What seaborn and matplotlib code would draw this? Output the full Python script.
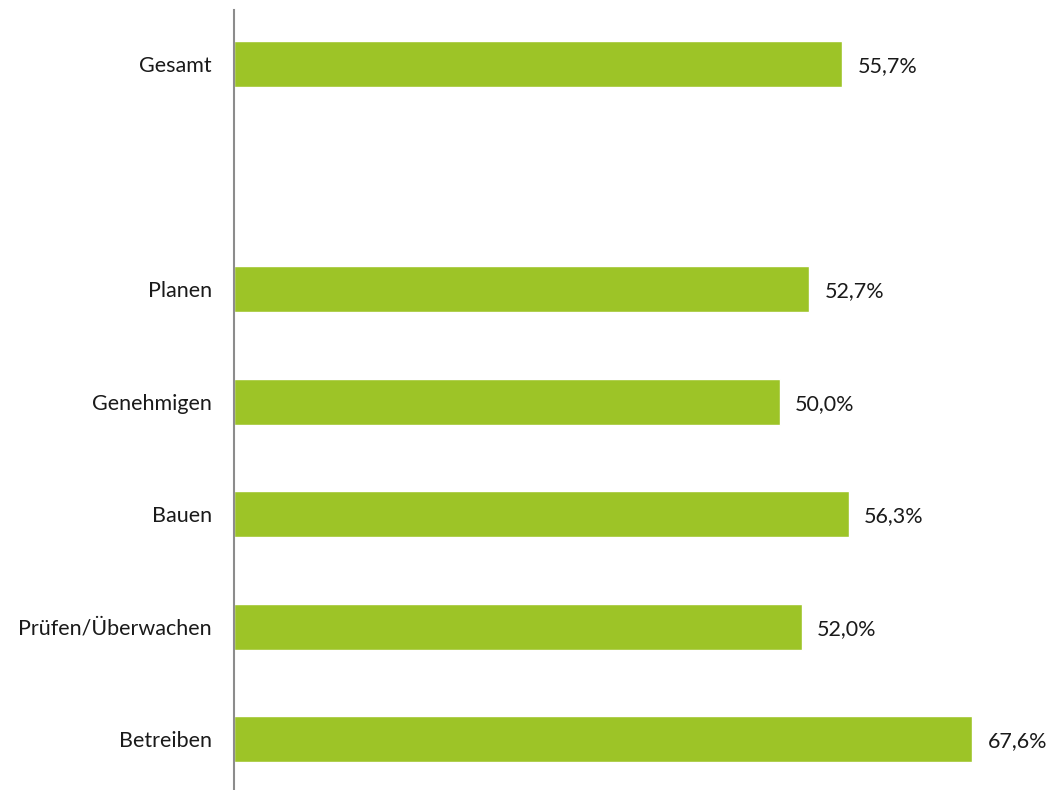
import matplotlib
matplotlib.use("Agg")
import matplotlib.pyplot as plt
import seaborn as sns
import pandas as pd

categories = ["Gesamt", "Planen", "Genehmigen", "Bauen", "Prüfen/Überwachen", "Betreiben"]
values = [55.7, 52.7, 50.0, 56.3, 52.0, 67.6]
order = ["Gesamt", " ", "Planen", "Genehmigen", "Bauen", "Prüfen/Überwachen", "Betreiben"]

sns.set_theme(style="white")
plt.rcParams["font.family"] = ["Lato", "DejaVu Sans"]

df = pd.DataFrame({"cat": categories, "val": values})

fig = plt.figure(figsize=(10.5, 7.9), dpi=100)
ax = fig.add_axes([234 / 1050, 0.0, 1 - 234 / 1050, 780 / 790])

sns.barplot(data=df, y="cat", x="val", order=order, color="#9DC427",
            width=0.41, saturation=1, ax=ax, orient="h")

ax.set_xlim(0, 816 / 10.92)
ax.set_ylim(6.45, -0.48)
ax.set_xlabel("")
ax.set_ylabel("")
ax.set_xticks([])
for s in ["top", "right", "bottom"]:
    ax.spines[s].set_visible(False)
ax.spines["left"].set_color("#8c8c8c")
ax.spines["left"].set_linewidth(1.5)
ax.tick_params(axis="y", length=0, pad=16, labelsize=15.5, colors="#1a1a1a")

labels = [f"{v:.1f}".replace(".", ",") + "%" for v in values]
texts = ax.bar_label(ax.containers[0], labels=labels, padding=11, fontsize=15.5, color="#1a1a1a")
for t in texts:
    t.set_va("center_baseline")

fig.savefig("out.png", dpi=100)
